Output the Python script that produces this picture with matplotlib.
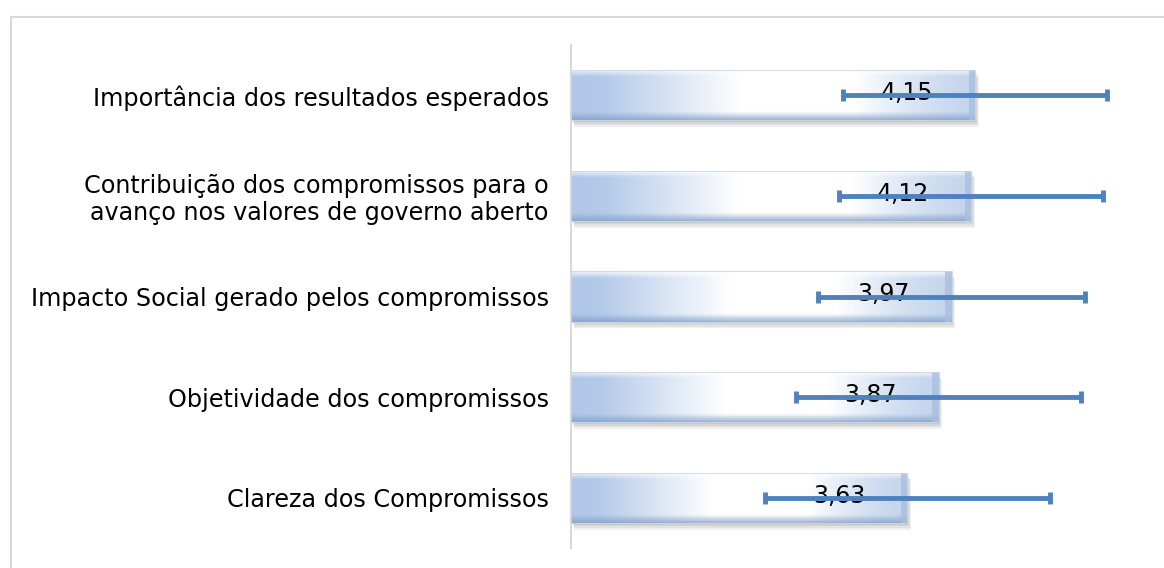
import numpy as np
import matplotlib
matplotlib.use("Agg")
import matplotlib.pyplot as plt
from matplotlib.patches import Rectangle
from matplotlib.lines import Line2D
import matplotlib.transforms as mtransforms

# ---- data ----
categories = [
    "Importância dos resultados esperados",
    "Contribuição dos compromissos para o\navanço nos valores de governo aberto",
    "Impacto Social gerado pelos compromissos",
    "Objetividade dos compromissos",
    "Clareza dos Compromissos",
]
means = [4.15, 4.12, 3.97, 3.87, 3.63]
errors = [1.01, 1.01, 1.02, 1.09, 1.09]
value_labels = ["4,15", "4,12", "3,97", "3,87", "3,63"]

plt.rcParams['font.family'] = ['DejaVu Sans']

W, H = 1164, 568
fig = plt.figure(figsize=(W / 100, H / 100), dpi=100)
fig.patch.set_facecolor("white")

# outer frame (only top and left visible)
fig.add_artist(Line2D([11 / W, 11 / W], [0, 1 - 17 / H], color="#d9d9d9", lw=1.5))
fig.add_artist(Line2D([11 / W, 1], [1 - 17 / H, 1 - 17 / H], color="#d9d9d9", lw=1.5))

ax = fig.add_axes([571 / W, 20 / H, (1140 - 571) / W, (548 - 45) / H])
xmin = 1.06
ax.set_xlim(xmin, 5.41)
ax.set_ylim(len(categories) - 0.5, -0.5)
for s in ["top", "right", "bottom"]:
    ax.spines[s].set_visible(False)
ax.spines["left"].set_color("#d9d9d9")
ax.spines["left"].set_linewidth(1.5)
ax.set_xticks([])
ax.tick_params(axis="y", length=0, pad=16, labelsize=17.2, labelcolor="black")

ypos = np.arange(len(categories))
bars = ax.barh(ypos, [m - xmin for m in means], left=xmin, height=0.5,
               facecolor="none", edgecolor="none", zorder=3)
ax.set_yticks(ypos)
ax.set_yticklabels(categories, linespacing=1.15)

# gradient image for bars
nx, ny = 400, 60
tx = np.linspace(0, 1, nx)
ty = np.linspace(0, 1, ny)[:, None]
blue = np.array([0.69, 0.78, 0.91])
white = np.array([1.0, 1.0, 1.0])
endblue = np.array([0.72, 0.80, 0.91])
prof = np.interp(tx, [0.0, 0.08, 0.42, 0.70, 1.0], [0.0, 0.05, 1.0, 1.0, 0.35])
base = blue[None, :] * (1 - prof[:, None]) + white[None, :] * prof[:, None]
right_mix = np.clip((tx - 0.70) / 0.30, 0, 1)[:, None]
base = base * (1 - right_mix * 0.5) + endblue[None, :] * right_mix * 0.5
img = np.repeat(base[None, :, :], ny, axis=0)
# vertical shading: light top band, darker bottom band
top_w = np.clip((0.14 - ty) / 0.14, 0, 1)[..., None]
bot_w = np.clip((ty - 0.84) / 0.16, 0, 1)[..., None]
img = img * (1 - 0.8 * top_w) + white * 0.8 * top_w
dark = np.array([0.50, 0.62, 0.78])
img = img * (1 - 0.75 * bot_w) + dark * 0.75 * bot_w
img = np.clip(img, 0, 1)

for b, m in zip(bars, means):
    x0, y0 = b.get_x(), b.get_y()
    w, h = b.get_width(), b.get_height()
    # soft shadow below / right
    for k in range(4):
        off = mtransforms.offset_copy(ax.transData, fig=fig, x=0.6 * (k + 1),
                                      y=-1.2 * (k + 1), units="points")
        sh = Rectangle((x0, y0), w, h, transform=off, facecolor="#404040",
                       edgecolor="none", alpha=0.08, zorder=2)
        ax.add_patch(sh)
    im = ax.imshow(img, extent=[x0, x0 + w, y0 + h, y0], aspect="auto",
                   interpolation="bilinear", zorder=3)
    clip = Rectangle((x0, y0), w, h, transform=ax.transData)
    im.set_clip_path(clip)
    # right bevel
    ax.add_patch(Rectangle((x0 + w - 0.05, y0), 0.05, h, facecolor="#a9bfdc",
                           edgecolor="none", alpha=0.8, zorder=3.5))
    ax.add_patch(Rectangle((x0, y0), w, h, facecolor="none",
                           edgecolor="#c9d6e6", lw=0.6, zorder=3.6))

ax.errorbar(means, ypos, xerr=errors, fmt="none", ecolor="#4f81bd",
            elinewidth=3.5, capsize=4, capthick=3.5, zorder=5)

for y, m, lab in zip(ypos, means, value_labels):
    ax.text(m - 0.52, y - 0.02, lab, ha="center", va="center", fontsize=17,
            color="black", zorder=4.5)

fig.savefig("out.png", dpi=100, facecolor="white")
